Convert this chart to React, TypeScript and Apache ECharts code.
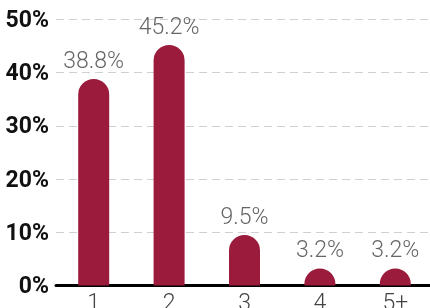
import React, { useEffect, useRef } from "react";
import * as echarts from "echarts";

const categories = ["1", "2", "3", "4", "5+"];
const values = [38.8, 45.2, 9.5, 3.2, 3.2];
const yTicks = [0, 10, 20, 30, 40, 50];

export default function App() {
  const ref = useRef<HTMLDivElement>(null);
  useEffect(() => {
    if (!ref.current) return;
    const chart = echarts.init(ref.current, null, { renderer: "svg" });
    chart.setOption({
      animation: false,
      grid: {
        left: 56,
        right: -3,
        top: 19.5,
        bottom: 22.5,
        containLabel: false,
        outerBoundsMode: "none",
      },
      xAxis: {
        type: "category",
        data: categories,
        axisLine: { show: true, lineStyle: { color: "#000", width: 3 } },
        axisTick: { show: false },
        axisLabel: {
          color: "#444",
          fontFamily: "Roboto",
          fontWeight: 300,
          fontSize: 23,
          margin: 5,
        },
      },
      yAxis: {
        type: "value",
        min: yTicks[0],
        max: yTicks[yTicks.length - 1],
        interval: 10,
        axisLine: { show: false },
        axisTick: { show: false },
        splitLine: { lineStyle: { color: "#d0d0d0", type: [8, 5], width: 1 } },
        axisLabel: {
          formatter: "{value}%",
          color: "#111",
          fontFamily: "Roboto",
          fontWeight: "bold",
          fontSize: 23,
          margin: 7,
        },
      },
      series: [
        {
          type: "bar",
          data: values,
          barWidth: 31,
          itemStyle: { color: "#9A1B3B", borderRadius: [16, 16, 0, 0] },
          label: {
            show: true,
            position: "top",
            distance: 7,
            formatter: (p: any) => p.value.toFixed(1) + "%",
            color: "#666",
            fontFamily: "Roboto",
            fontWeight: 300,
            fontSize: 23,
          },
        },
      ],
    });
    return () => chart.dispose();
  }, []);
  return (
    <div
      ref={ref}
      style={{ position: "fixed", left: 0, top: 0, width: 430, height: 308 }}
    />
  );
}
